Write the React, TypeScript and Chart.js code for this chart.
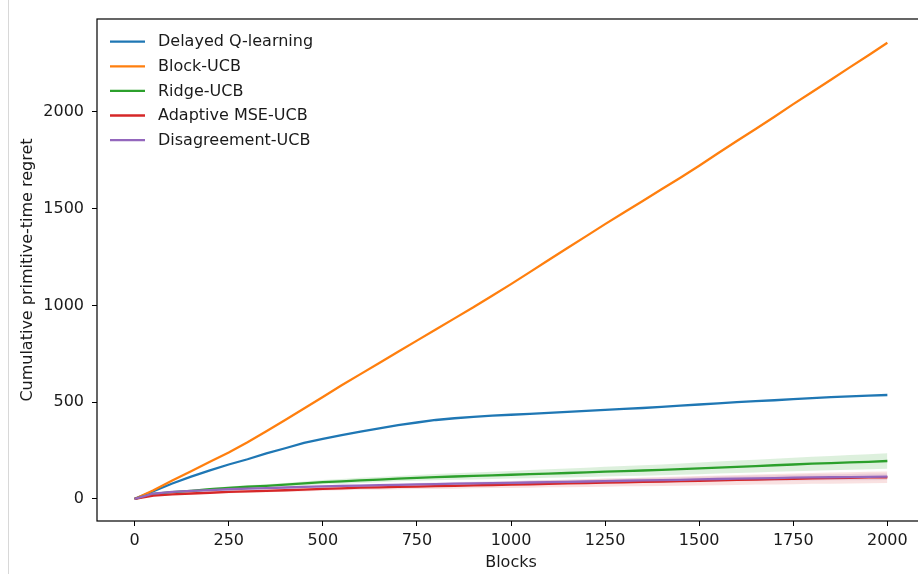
import React, { useEffect, useRef } from "react";
import { Chart, registerables } from "chart.js";

Chart.register(...registerables);

const BLOCKS = [0, 50, 100, 150, 200, 250, 300, 350, 400, 450, 500, 550, 600, 650, 700, 750, 800, 850, 900, 950, 1000, 1050, 1100, 1150, 1200, 1250, 1300, 1350, 1400, 1450, 1500, 1550, 1600, 1650, 1700, 1750, 1800, 1850, 1900, 1950, 2000];

const DELAYED_Q = [0, 40, 80, 115, 148, 178, 205, 235, 262, 290, 310, 330, 348, 365, 382, 395, 408, 417, 424, 430, 435, 440, 445, 450, 455, 460, 465, 470, 476, 482, 488, 494, 500, 505, 510, 516, 521, 526, 530, 534, 537];
const BLOCK_UCB = [0, 45, 95, 143, 192, 240, 293, 350, 408, 467, 527, 587, 645, 702, 760, 818, 876, 933, 990, 1050, 1110, 1172, 1235, 1297, 1358, 1420, 1480, 1540, 1600, 1660, 1722, 1786, 1850, 1912, 1975, 2040, 2103, 2166, 2230, 2293, 2357];
const RIDGE_UCB = [0, 26, 35, 42, 50, 57, 63, 68, 74, 80, 87, 91, 96, 100, 105, 109, 113, 116, 119, 122, 125, 128, 131, 134, 137, 141, 144, 147, 150, 154, 158, 162, 166, 170, 174, 178, 182, 185, 189, 192, 196];
const ADAPTIVE_MSE_UCB = [0, 17, 24, 28, 32, 36, 39, 42, 45, 48, 52, 55, 58, 60, 62, 64, 66, 68, 70, 72, 74, 76, 78, 80, 82, 84, 86, 88, 90, 92, 94, 96, 98, 100, 102, 104, 106, 108, 109, 111, 112];
const DISAGREEMENT_UCB = [0, 28, 37, 42, 46, 50, 53, 56, 59, 62, 65, 67, 69, 71, 73, 75, 77, 79, 80, 82, 83, 85, 87, 88, 90, 92, 94, 96, 97, 99, 101, 103, 105, 106, 108, 110, 111, 112, 113, 114, 115];

const RIDGE_SPREAD = [0, 3, 4, 5, 6, 7, 8, 8, 9, 10, 11, 12, 13, 14, 14, 15, 16, 17, 18, 19, 20, 21, 22, 23, 24, 25, 26, 27, 28, 29, 30, 31, 32, 33, 34, 35, 36, 37, 38, 39, 40];
const ADAPTIVE_SPREAD = [0, 3, 4, 5, 5, 6, 7, 7, 8, 9, 10, 10, 11, 12, 12, 13, 14, 15, 15, 16, 17, 18, 18, 19, 20, 21, 21, 22, 23, 24, 24, 25, 26, 26, 27, 28, 28, 29, 29, 30, 30];
const DISAGREEMENT_SPREAD = [0, 2, 3, 3, 4, 4, 5, 5, 5, 6, 6, 7, 7, 7, 8, 8, 8, 9, 9, 10, 10, 10, 11, 11, 11, 12, 12, 13, 13, 13, 14, 14, 14, 15, 15, 15, 16, 16, 16, 17, 17];

const X_TICKS = [0, 250, 500, 750, 1000, 1250, 1500, 1750, 2000];
const Y_TICKS = [0, 500, 1000, 1500, 2000];

const SERIES = [
  { label: "Delayed Q-learning", data: DELAYED_Q, color: "#1f77b4", order: 4 },
  { label: "Block-UCB", data: BLOCK_UCB, color: "#ff7f0e", order: 3 },
  { label: "Ridge-UCB", data: RIDGE_UCB, color: "#2ca02c", order: 2 },
  { label: "Adaptive MSE-UCB", data: ADAPTIVE_MSE_UCB, color: "#d62728", order: 1 },
  { label: "Disagreement-UCB", data: DISAGREEMENT_UCB, color: "#9467bd", order: 0 },
];

const BANDS = [
  { mean: RIDGE_UCB, spread: RIDGE_SPREAD, fill: "rgba(44,160,44,0.16)" },
  { mean: ADAPTIVE_MSE_UCB, spread: ADAPTIVE_SPREAD, fill: "rgba(214,39,40,0.14)" },
  { mean: DISAGREEMENT_UCB, spread: DISAGREEMENT_SPREAD, fill: "rgba(148,103,189,0.16)" },
];

const FONT = "'DejaVu Sans', sans-serif";
const TEXT = "#1a1a1a";

const pts = (ys: number[]) => ys.map((y, i) => ({ x: BLOCKS[i], y }));

const framePlugin = {
  id: "frame",
  afterDatasetsDraw(chart: any) {
    const { ctx, chartArea } = chart;
    ctx.save();
    ctx.strokeStyle = "#000";
    ctx.lineWidth = 1.2;
    ctx.strokeRect(chartArea.left, chartArea.top, chartArea.right - chartArea.left, chartArea.bottom - chartArea.top);
    ctx.restore();
  },
};

const legendPlugin = {
  id: "mplLegend",
  afterDraw(chart: any) {
    const { ctx } = chart;
    ctx.save();
    ctx.font = `16px ${FONT}`;
    ctx.textBaseline = "middle";
    ctx.textAlign = "left";
    SERIES.forEach((s, i) => {
      const y = 41.7 + i * 24.6;
      ctx.strokeStyle = s.color;
      ctx.lineWidth = 2.3;
      ctx.beginPath();
      ctx.moveTo(110, y);
      ctx.lineTo(145, y);
      ctx.stroke();
      ctx.fillStyle = TEXT;
      ctx.fillText(s.label, 158, y + 0.5);
    });
    ctx.restore();
  },
};

export default function App() {
  const ref = useRef<HTMLCanvasElement | null>(null);
  useEffect(() => {
    if (!ref.current) return;
    const datasets: any[] = [];
    BANDS.forEach((b, k) => {
      datasets.push({
        label: "_lo" + k,
        data: pts(b.mean.map((m, i) => m - b.spread[i])),
        borderWidth: 0,
        borderColor: "rgba(0,0,0,0)",
        pointRadius: 0,
        fill: false,
        order: 20 + k,
      });
      datasets.push({
        label: "_hi" + k,
        data: pts(b.mean.map((m, i) => m + b.spread[i])),
        borderWidth: 0,
        borderColor: "rgba(0,0,0,0)",
        backgroundColor: b.fill,
        pointRadius: 0,
        fill: "-1",
        order: 20 + k,
      });
    });
    SERIES.forEach((s) => {
      datasets.push({
        label: s.label,
        data: pts(s.data),
        borderColor: s.color,
        backgroundColor: s.color,
        borderWidth: 2.3,
        pointRadius: 0,
        fill: false,
        tension: 0,
        order: s.order,
      });
    });
    const chart = new Chart(ref.current, {
      type: "line",
      data: { datasets },
      options: {
        animation: false,
        responsive: false,
        devicePixelRatio: 1,
        layout: { padding: { left: 0, top: 19, right: 15, bottom: 0 } },
        plugins: { legend: { display: false }, tooltip: { enabled: false } },
        scales: {
          x: {
            type: "linear",
            min: -100,
            max: 2100,
            afterBuildTicks: (s: any) => {
              s.ticks = X_TICKS.map((v) => ({ value: v }));
            },
            afterFit: (s: any) => {
              s.height = 53;
            },
            grid: { display: true, drawOnChartArea: false, drawTicks: true, tickLength: 5, tickColor: "#000", tickWidth: 1 },
            border: { display: false },
            ticks: { color: TEXT, font: { family: FONT, size: 16 }, padding: 5, maxRotation: 0, autoSkip: false, callback: (v: any) => String(v) },
            title: { display: true, text: "Blocks", color: TEXT, font: { family: FONT, size: 16 }, padding: { top: 0, bottom: 2 } },
          },
          y: {
            type: "linear",
            min: -114,
            max: 2480,
            afterBuildTicks: (s: any) => {
              s.ticks = Y_TICKS.map((v) => ({ value: v }));
            },
            afterFit: (s: any) => {
              s.width = 97;
            },
            grid: { display: true, drawOnChartArea: false, drawTicks: true, tickLength: 5, tickColor: "#000", tickWidth: 1 },
            border: { display: false },
            ticks: { color: TEXT, font: { family: FONT, size: 16 }, padding: 8, callback: (v: any) => String(v) },
            title: { display: true, text: "Cumulative primitive-time regret", color: TEXT, font: { family: FONT, size: 16 }, padding: { top: 18, bottom: 0 } },
          },
        },
      },
      plugins: [framePlugin, legendPlugin],
    });
    return () => chart.destroy();
  }, []);
  return (
    <div style={{ position: "fixed", left: 0, top: 0, width: 918, height: 574, overflow: "hidden", background: "#fff" }}>
      <div style={{ position: "absolute", left: 8, top: 0, width: 1, height: 574, background: "#d8d8d8" }} />
      <canvas ref={ref} width={940} height={574} style={{ position: "absolute", left: 0, top: 0, width: 940, height: 574 }} />
    </div>
  );
}
